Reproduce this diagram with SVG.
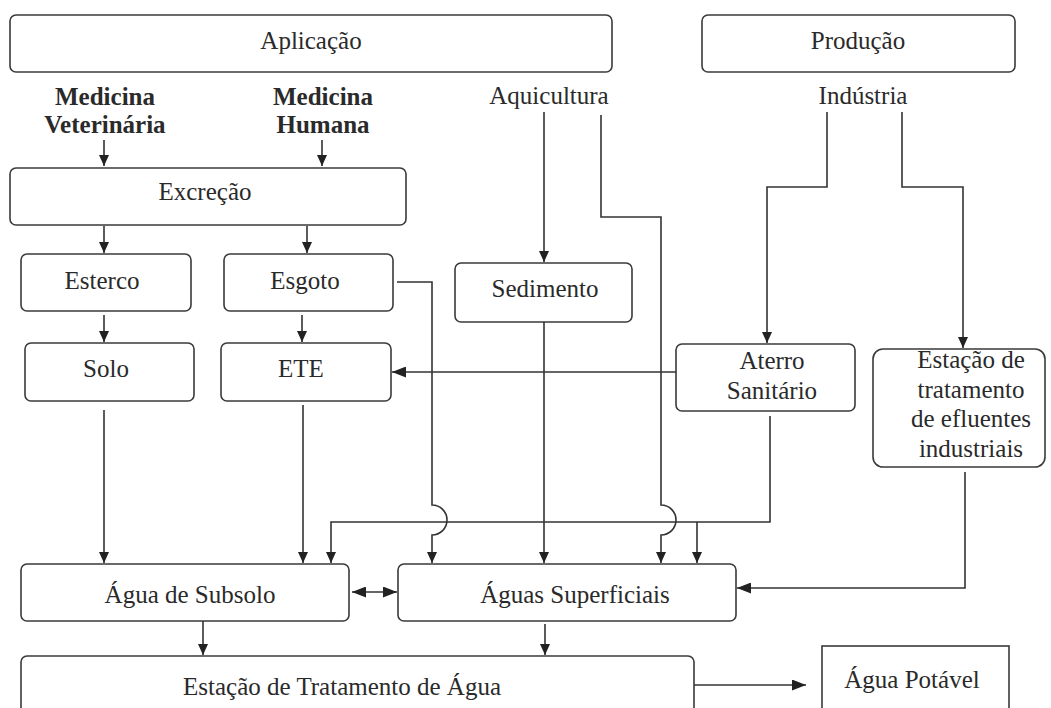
<svg xmlns="http://www.w3.org/2000/svg" width="1051" height="708" viewBox="0 0 1051 708">
<style>
.box{fill:#fff;stroke:#3a3a3a;stroke-width:1.6}
.c{fill:none;stroke:#333;stroke-width:1.6}
</style>
<defs>
<marker id="ah" markerUnits="userSpaceOnUse" markerWidth="15" markerHeight="11" refX="14" refY="5.5" orient="auto-start-reverse">
<path d="M0,0 L14,5.5 L0,11 z" fill="#222"/>
</marker>
<marker id="ahs" markerUnits="userSpaceOnUse" markerWidth="12" markerHeight="10" refX="11" refY="5" orient="auto-start-reverse">
<path d="M0,0 L11,5 L0,10 z" fill="#222"/>
</marker>
</defs>
<rect width="1051" height="708" fill="#fff"/>
<g font-family="Liberation Serif" font-size="25" fill="#2a2a2a" text-anchor="middle">
<g id="aplicacao"><rect class="box" x="10" y="15" width="602" height="57" rx="6"/><text font-family="Liberation Serif" x="311" y="49">Aplicação</text></g>
<g id="producao"><rect class="box" x="702" y="15" width="313" height="57" rx="6"/><text font-family="Liberation Serif" x="858" y="49">Produção</text></g>
<g id="med-vet" font-weight="bold"><text font-family="Liberation Serif" x="105" y="105">Medicina</text><text font-family="Liberation Serif" x="105" y="133">Veterinária</text></g>
<g id="med-hum" font-weight="bold"><text font-family="Liberation Serif" x="323" y="105">Medicina</text><text font-family="Liberation Serif" x="323" y="133">Humana</text></g>
<g id="aquicultura"><text font-family="Liberation Serif" x="549" y="104">Aquicultura</text></g>
<g id="industria"><text font-family="Liberation Serif" x="863" y="104">Indústria</text></g>
<g id="excrecao"><rect class="box" x="10" y="168" width="396" height="57" rx="6"/><text font-family="Liberation Serif" x="205" y="200">Excreção</text></g>
<g id="esterco"><rect class="box" x="21" y="254" width="170" height="57" rx="6"/><text font-family="Liberation Serif" x="102" y="289">Esterco</text></g>
<g id="esgoto"><rect class="box" x="224" y="254" width="169" height="57" rx="6"/><text font-family="Liberation Serif" x="305" y="289">Esgoto</text></g>
<g id="sedimento"><rect class="box" x="455" y="263" width="177" height="59" rx="6"/><text font-family="Liberation Serif" x="545" y="297">Sedimento</text></g>
<g id="solo"><rect class="box" x="25" y="343" width="169" height="58" rx="6"/><text font-family="Liberation Serif" x="106" y="377">Solo</text></g>
<g id="ete"><rect class="box" x="221" y="343" width="170" height="58" rx="6"/><text font-family="Liberation Serif" x="301" y="377">ETE</text></g>
<g id="aterro"><rect class="box" x="676" y="344" width="179" height="67" rx="6"/><text font-family="Liberation Serif" x="772" y="369">Aterro</text><text font-family="Liberation Serif" x="772" y="399">Sanitário</text></g>
<g id="estacao-efluentes"><rect class="box" x="873" y="349" width="172" height="118" rx="10"/><text font-family="Liberation Serif" x="971" y="368">Estação de</text><text font-family="Liberation Serif" x="971" y="398">tratamento</text><text font-family="Liberation Serif" x="971" y="427">de efluentes</text><text font-family="Liberation Serif" x="971" y="457">industriais</text></g>
<g id="agua-subsolo"><rect class="box" x="21" y="564" width="328" height="57" rx="6"/><text font-family="Liberation Serif" x="190" y="603">Água de Subsolo</text></g>
<g id="aguas-superficiais"><rect class="box" x="398" y="564" width="338" height="57" rx="6"/><text font-family="Liberation Serif" x="575" y="603">Águas Superficiais</text></g>
<g id="eta"><rect class="box" x="21" y="656" width="673" height="70" rx="6"/><text font-family="Liberation Serif" x="342" y="695">Estação de Tratamento de Água</text></g>
<g id="agua-potavel"><rect class="box" x="822" y="646" width="187" height="80"/><text font-family="Liberation Serif" x="912" y="688">Água Potável</text></g>
</g>
<g id="connectors">
<path class="c" d="M104,140 V166" marker-end="url(#ahs)"/>
<path class="c" d="M322,140 V166" marker-end="url(#ahs)"/>
<path class="c" d="M104,226 V253" marker-end="url(#ahs)"/>
<path class="c" d="M307,226 V253" marker-end="url(#ahs)"/>
<path class="c" d="M104,315 V342" marker-end="url(#ahs)"/>
<path class="c" d="M302,315 V342" marker-end="url(#ahs)"/>
<path class="c" d="M544,112 V262" marker-end="url(#ahs)"/>
<path class="c" d="M601,115 V217 H661 V505 A15,15 0 0 1 661,535 V563" marker-end="url(#ahs)"/>
<path class="c" d="M827,112 V187 H767 V343" marker-end="url(#ahs)"/>
<path class="c" d="M902,112 V187 H963 V348" marker-end="url(#ahs)"/>
<path class="c" d="M676,372 H392" marker-end="url(#ah)"/>
<path class="c" d="M397,282 H432 V505 A15,15 0 0 1 432,535 V563" marker-end="url(#ahs)"/>
<path class="c" d="M544,322 V563" marker-end="url(#ahs)"/>
<path class="c" d="M104,410 V563" marker-end="url(#ahs)"/>
<path class="c" d="M303,405 V563" marker-end="url(#ahs)"/>
<path class="c" d="M770,416 V522 H331 V563" marker-end="url(#ahs)"/>
<path class="c" d="M697,522 V563" marker-end="url(#ahs)"/>
<path class="c" d="M965,472 V588 H737" marker-end="url(#ah)"/>
<path class="c" d="M352,592 H397" marker-start="url(#ah)" marker-end="url(#ah)"/>
<path class="c" d="M203,621 V655" marker-end="url(#ahs)"/>
<path class="c" d="M545,624 V655" marker-end="url(#ahs)"/>
<path class="c" d="M694,685 H806" marker-end="url(#ah)"/>
</g>
</svg>
